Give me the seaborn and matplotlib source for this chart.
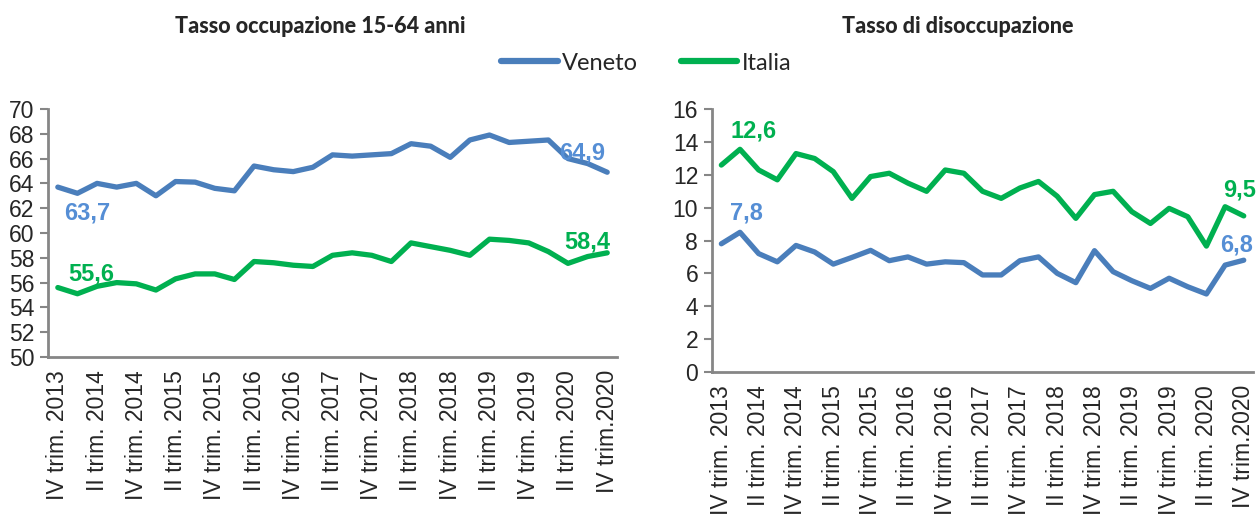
import pandas as pd
import seaborn as sns
import matplotlib.pyplot as plt

sns.set_style("white")
plt.rcParams['font.family'] = ['Liberation Sans', 'DejaVu Sans']

quarters = ["IV trim. 2013",
            "I trim. 2014", "II trim. 2014", "III trim. 2014", "IV trim. 2014",
            "I trim. 2015", "II trim. 2015", "III trim. 2015", "IV trim. 2015",
            "I trim. 2016", "II trim. 2016", "III trim. 2016", "IV trim. 2016",
            "I trim. 2017", "II trim. 2017", "III trim. 2017", "IV trim. 2017",
            "I trim. 2018", "II trim. 2018", "III trim. 2018", "IV trim. 2018",
            "I trim. 2019", "II trim. 2019", "III trim. 2019", "IV trim. 2019",
            "I trim. 2020", "II trim. 2020", "III trim. 2020", "IV trim.2020"]

occ_veneto = [63.7, 63.2, 64.0, 63.7, 64.0, 63.0, 64.15, 64.1, 63.6, 63.4,
              65.4, 65.1, 64.95, 65.3, 66.3, 66.2, 66.3, 66.4, 67.2, 67.0,
              66.1, 67.5, 67.9, 67.3, 67.4, 67.5, 66.0, 65.6, 64.9]
occ_italia = [55.6, 55.1, 55.7, 56.0, 55.9, 55.4, 56.3, 56.7, 56.7, 56.25,
              57.7, 57.6, 57.4, 57.3, 58.2, 58.4, 58.2, 57.7, 59.2, 58.9,
              58.6, 58.2, 59.5, 59.4, 59.2, 58.5, 57.55, 58.1, 58.4]
dis_veneto = [7.8, 8.5, 7.2, 6.7, 7.7, 7.3, 6.56, 6.97, 7.4, 6.77,
              7.0, 6.56, 6.7, 6.65, 5.9, 5.9, 6.77, 7.0, 6.0, 5.43,
              7.38, 6.1, 5.55, 5.08, 5.7, 5.18, 4.74, 6.5, 6.8]
dis_italia = [12.6, 13.56, 12.3, 11.7, 13.3, 13.0, 12.2, 10.57, 11.9, 12.1,
              11.5, 11.0, 12.3, 12.1, 11.0, 10.57, 11.2, 11.6, 10.7, 9.35,
              10.8, 11.0, 9.76, 9.04, 9.96, 9.45, 7.66, 10.06, 9.5]

colors = {"Veneto": "#4A7EBB", "Italia": "#00B050"}
label_blue = "#558ED5"


def long_df(veneto, italia):
    n = len(quarters)
    return pd.DataFrame({
        "q": list(range(n)) * 2,
        "val": veneto + italia,
        "area": ["Veneto"] * n + ["Italia"] * n,
    })


fig = plt.figure(figsize=(12.6, 5.17), dpi=100)
ax1 = fig.add_axes([0.0381, 0.3095, 0.4516, 0.4797])
ax2 = fig.add_axes([0.5651, 0.2810, 0.4294, 0.5076])

kw = dict(x="q", y="val", hue="area", palette=colors, linewidth=3.8,
          solid_capstyle="round", solid_joinstyle="round")
sns.lineplot(data=long_df(occ_veneto, occ_italia), ax=ax1, legend=False, **kw)
sns.lineplot(data=long_df(dis_veneto, dis_italia), ax=ax2, legend=True, **kw)

tick_pos = list(range(0, len(quarters), 2))
for ax, lo, hi in [(ax1, 50, 70), (ax2, 0, 16)]:
    ax.set_xlim(-0.5, len(quarters) - 0.5)
    ax.set_ylim(lo, hi)
    ax.set_yticks(range(lo, hi + 1, 2))
    ax.set_xticks(tick_pos, [quarters[i] for i in tick_pos], rotation=90)
    ax.set_xlabel("")
    ax.set_ylabel("")
    ax.tick_params(axis="y", left=True, length=6, width=1.5, color="#868686",
                   labelsize=16.5, pad=4)
    ax.tick_params(axis="x", bottom=False, labelsize=16.5, pad=6)
    for s in ["top", "right"]:
        ax.spines[s].set_visible(False)
    for s in ["left", "bottom"]:
        ax.spines[s].set_color("#868686")
        ax.spines[s].set_linewidth(2)

lbl = dict(fontsize=17, fontweight="bold", ha="center", va="center")
ax1.text(1.5, 61.6, "63,7", color=label_blue, **lbl)
ax1.text(1.7, 56.7, "55,6", color=colors["Italia"], **lbl)
ax1.text(26.7, 66.45, "64,9", color=label_blue, **lbl)
ax1.text(27.0, 59.3, "58,4", color=colors["Italia"], **lbl)
ax2.text(1.7, 14.7, "12,6", color=colors["Italia"], **lbl)
ax2.text(1.33, 9.7, "7,8", color=label_blue, **lbl)
ax2.text(27.8, 11.1, "9,5", color=colors["Italia"], **lbl)
ax2.text(27.6, 7.7, "6,8", color=label_blue, **lbl)

fig.text(0.254, 0.948, "Tasso occupazione 15-64 anni", ha="center", va="center",
         fontsize=15.5, fontweight="black", family=["Lato", "DejaVu Sans"])
fig.text(0.760, 0.948, "Tasso di disoccupazione", ha="center", va="center",
         fontsize=15.5, fontweight="black", family=["Lato", "DejaVu Sans"])

handles, labels = ax2.get_legend_handles_labels()
ax2.get_legend().remove()
leg = fig.legend(handles, labels, loc="center", bbox_to_anchor=(0.513, 0.878),
                 ncol=2, frameon=False, handlelength=2.4, handletextpad=0.2,
                 columnspacing=1.8, prop={"family": "Lato", "size": 17})
for h in leg.get_lines():
    h.set_linewidth(4.5)
    h.set_solid_capstyle("round")

plt.savefig("out.png", dpi=100)
